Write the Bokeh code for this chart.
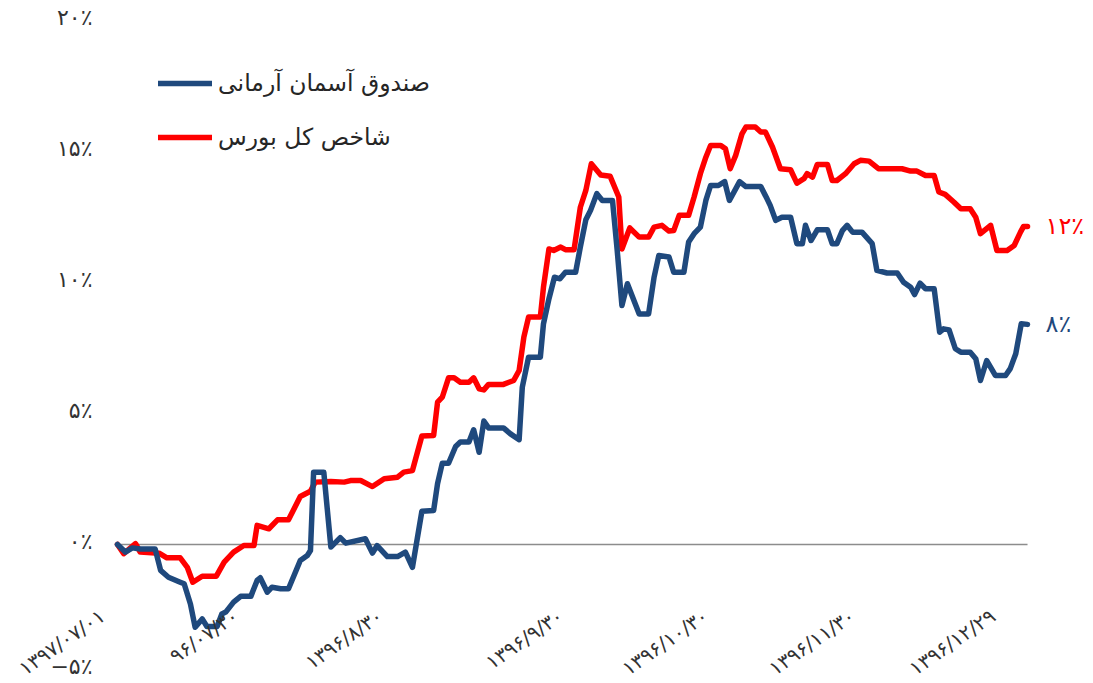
import math
from bokeh.plotting import figure
from bokeh.models import Legend, LegendItem, Range1d, ColumnDataSource
from bokeh.core.properties import value
from bokeh.embed import file_html
from bokeh.resources import INLINE

# ---------------- data (cumulative return, %) ----------------
series_names = ["صندوق آسمان آرمانی", "شاخص کل بورس"]

fund_days = [0.0, 1.0, 1.9, 2.9, 4.8, 5.5, 6.5, 8.0, 8.5, 9.3, 9.9, 10.8, 11.4, 12.7, 13.3,
             13.8, 14.8, 15.7, 17.0, 17.8, 18.2, 19.1, 19.7, 20.8, 21.8, 23.3, 24.2, 24.6,
             25.0, 26.3, 27.2, 28.4, 29.1, 31.6, 32.5, 33.1, 34.4, 35.7, 36.7, 37.6, 38.8,
             40.3, 40.8, 41.4, 42.2, 43.1, 43.7, 44.8, 45.4, 46.1, 46.7, 47.3, 49.2, 50.1,
             51.2, 51.6, 52.4, 53.9, 54.3, 55.0, 55.7, 56.4, 57.1, 58.4, 59.0, 59.7, 60.3,
             61.1, 61.8, 63.1, 63.7, 64.3, 65.0, 66.5, 67.7, 68.4, 69.0, 70.3, 70.9, 72.2,
             72.8, 73.5, 74.3, 75.0, 75.6, 76.6, 77.4, 78.0, 79.3, 80.1, 82.0, 82.8, 83.2,
             83.9, 84.7, 85.8, 86.6, 87.3, 87.7, 88.4, 89.2, 90.5, 91.1, 91.7, 92.4, 93.0,
             93.7, 94.9, 96.2, 96.8, 98.1, 99.4, 100.2, 101.1, 101.6, 102.3, 103.0, 104.1,
             104.8, 105.3, 106.0, 106.8, 107.5, 108.7, 109.4, 110.0, 110.8, 111.9, 113.2,
             113.8, 114.5, 115.2, 116.0]
fund_ret = [0.0, -0.29, -0.13, -0.17, -0.17, -0.99, -1.25, -1.44, -1.50, -2.27, -3.16, -2.84,
            -3.13, -3.13, -2.65, -2.58, -2.20, -1.98, -1.98, -1.37, -1.27, -1.82, -1.63, -1.69,
            -1.69, -0.61, -0.42, -0.23, 2.76, 2.76, -0.10, 0.26, 0.05, 0.22, -0.33, -0.04,
            -0.46, -0.46, -0.29, -0.87, 1.27, 1.30, 2.32, 3.10, 3.10, 3.74, 3.91, 3.91, 4.38,
            3.52, 4.71, 4.45, 4.45, 4.22, 4.00, 6.00, 7.15, 7.15, 8.42, 9.38, 10.20, 10.14,
            10.39, 10.39, 11.35, 12.39, 12.75, 13.39, 13.13, 13.13, 11.22, 9.12, 9.95, 8.80,
            8.80, 10.20, 11.03, 10.97, 10.39, 10.39, 11.54, 11.86, 12.11, 13.13, 13.70, 13.70,
            13.85, 13.13, 13.85, 13.66, 13.66, 13.19, 12.94, 12.37, 12.49, 12.49, 11.48,
            11.48, 12.18, 11.60, 12.01, 12.01, 11.48, 11.48, 11.98, 12.18, 11.92, 11.92,
            11.48, 10.46, 10.36, 10.36, 10.01, 9.82, 9.54, 9.97, 9.76, 9.76, 8.10, 8.23, 8.19,
            7.47, 7.34, 7.34, 7.09, 6.26, 7.02, 6.45, 6.45, 6.71, 7.28, 8.42, 8.40]

index_days = [0.0, 0.8, 2.3, 2.9, 5.3, 6.3, 8.0, 8.9, 9.6, 10.8, 12.6, 13.6, 14.8, 16.1, 17.4,
              17.8, 19.3, 20.4, 21.8, 23.3, 24.6, 25.2, 27.2, 28.9, 29.7, 31.0, 32.5, 34.0,
              35.7, 36.5, 37.6, 38.8, 40.3, 40.8, 41.4, 42.2, 42.9, 43.7, 44.8, 45.4, 46.1,
              46.7, 47.3, 49.2, 50.5, 51.2, 51.8, 52.4, 53.9, 54.3, 55.0, 55.6, 56.5, 57.1,
              58.2, 59.0, 59.7, 60.4, 61.6, 62.8, 63.9, 64.3, 65.3, 66.5, 67.7, 68.4, 69.4,
              70.3, 70.9, 71.6, 72.8, 73.5, 74.3, 75.0, 75.6, 76.9, 77.5, 78.1, 78.8, 79.6,
              80.1, 81.3, 82.0, 82.6, 83.5, 84.5, 85.8, 86.6, 87.5, 87.9, 88.6, 89.2, 90.5,
              91.1, 91.7, 92.8, 93.9, 94.7, 95.8, 97.0, 100.0, 101.1, 101.9, 103.0, 104.1,
              104.7, 105.5, 106.6, 107.5, 108.7, 109.4, 110.0, 111.3, 112.1, 113.4, 114.3,
              115.1, 115.5, 116.0]
index_ret = [0.0, -0.35, 0.03, -0.29, -0.33, -0.51, -0.51, -0.87, -1.44, -1.21, -1.21, -0.67,
             -0.29, -0.04, -0.04, 0.73, 0.60, 0.94, 0.94, 1.83, 2.03, 2.38, 2.40, 2.38, 2.44,
             2.44, 2.21, 2.51, 2.57, 2.76, 2.82, 4.14, 4.16, 5.43, 5.62, 6.36, 6.36, 6.19,
             6.19, 6.36, 5.94, 5.90, 6.11, 6.11, 6.26, 6.64, 7.91, 8.68, 8.68, 9.82, 11.28,
             11.22, 11.35, 11.25, 11.25, 12.87, 13.51, 14.53, 14.10, 14.05, 13.26, 11.28,
             12.08, 11.73, 11.73, 12.11, 12.18, 11.96, 11.98, 12.56, 12.56, 13.26, 14.15,
             14.78, 15.23, 15.23, 15.10, 14.34, 14.85, 15.67, 15.93, 15.93, 15.74, 15.74,
             15.16, 14.34, 14.30, 13.79, 13.96, 14.15, 14.02, 14.50, 14.50, 13.89, 13.89,
             14.15, 14.53, 14.66, 14.63, 14.34, 14.34, 14.25, 14.25, 14.08, 14.08, 13.45,
             13.36, 13.07, 12.81, 12.81, 12.49, 11.86, 12.18, 11.22, 11.22, 11.41, 11.92,
             12.14, 12.14]

tick_days = [-1.9, 15.1, 33.5, 56.5, 75.0, 93.7, 111.6]
tick_labels = ["۱۳۹۷/۰۷/۰۱", "۹۶/۰۷/۳۰", "۱۳۹۶/۸/۳۰", "۱۳۹۶/۹/۳۰",
               "۱۳۹۶/۱۰/۳۰", "۱۳۹۶/۱۱/۳۰", "۱۳۹۶/۱۲/۲۹"]
y_ticks = [-5, 0, 5, 10, 15, 20]
y_tick_labels = ["−۵٪", "۰٪", "۵٪", "۱۰٪", "۱۵٪", "۲۰٪"]
end_labels = ["۸٪", "۱۲٪"]

# ---------------- styling ----------------
BLUE = "#1F497D"
RED = "#FF0000"
FONT = "DejaVu Sans"

p = figure(width=1093, height=683,
           x_range=Range1d(-14.91, 124.41), y_range=Range1d(-5.305, 20.76),
           output_backend="svg", toolbar_location=None, min_border=0,
           x_axis_location=None, y_axis_location=None)
p.grid.visible = False
p.outline_line_color = None
p.background_fill_color = "white"
p.border_fill_color = "white"

# zero reference line
p.line([fund_days[0], fund_days[-1]], [0, 0], color="#8c8c8c", line_width=1.5)

r_idx = p.line(index_days, index_ret, color=RED, line_width=5.5,
               line_join="round", line_cap="round")
r_fund = p.line(fund_days, fund_ret, color=BLUE, line_width=5.5,
                line_join="round", line_cap="round")

# y tick labels (the bottom one nudged up so it stays inside the canvas)
ylab_src = ColumnDataSource(dict(
    x=[fund_days[0]] * len(y_ticks),
    y=y_ticks,
    t=y_tick_labels,
    dy=[-9 if t == min(y_ticks) else -3 for t in y_ticks],
))
p.text(x="x", y="y", text="t", source=ylab_src, y_offset="dy",
       x_offset=-25, text_align="right", text_baseline="middle",
       text_font=value(FONT), text_font_size=value("22px"), text_color="#333333")

# rotated x tick labels
p.text(x=tick_days, y=[0] * len(tick_days), text=tick_labels,
       angle=math.radians(35), y_offset=69, text_align="right", text_baseline="middle",
       text_font=value(FONT), text_font_size=value("20px"), text_color="#333333")

# end labels
end_src = ColumnDataSource(dict(
    x=[fund_days[-1], index_days[-1]],
    y=[fund_ret[-1], index_ret[-1]],
    t=end_labels,
    c=[BLUE, RED],
))
p.text(x="x", y="y", text="t", source=end_src, x_offset=18,
       text_align="left", text_baseline="middle", text_color="c",
       text_font=value(FONT), text_font_size=value("24px"))

legend = Legend(items=[LegendItem(label=series_names[0], renderers=[r_fund]),
                       LegendItem(label=series_names[1], renderers=[r_idx])],
                location=(158, 531), orientation="vertical",
                glyph_width=54, glyph_height=14, label_height=30, spacing=24,
                label_standoff=6, padding=0, margin=0,
                border_line_alpha=0, background_fill_alpha=0,
                label_text_font=FONT, label_text_font_size="23.5px",
                label_text_color="#262626")
p.add_layout(legend)

open("out.html", "w").write(file_html(p, INLINE))
